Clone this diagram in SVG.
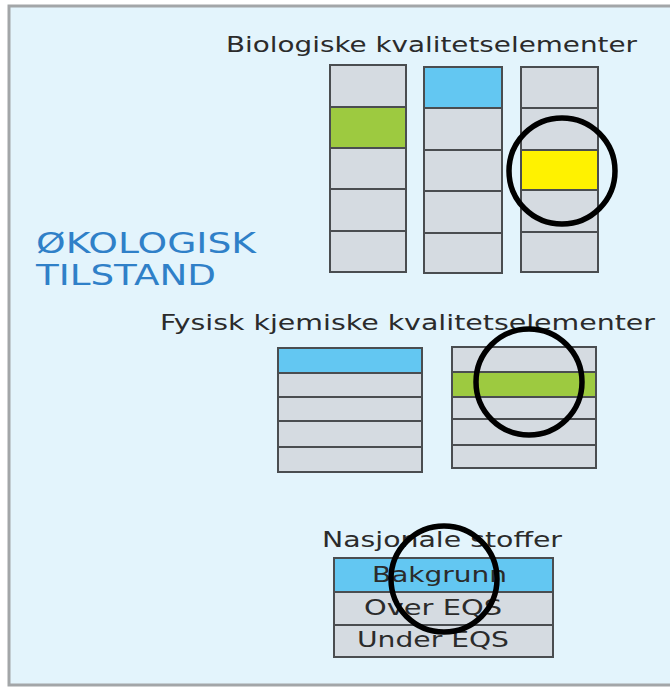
<svg xmlns="http://www.w3.org/2000/svg" width="670" height="688" viewBox="0 0 670 688">
  <style>
    .panel { fill: #e3f4fc; stroke: #a3a6a8; stroke-width: 3; }
    .cell { fill: #d5dbe1; stroke: #4a4d50; stroke-width: 2; }
    .blue { fill: #63c7f2; }
    .green { fill: #9dca40; }
    .yellow { fill: #fff200; }
    .head { font-family: "DejaVu Sans", Verdana, sans-serif; font-size: 21px; fill: #2b2b2b; }
    .cap { font-family: "DejaVu Sans", Verdana, sans-serif; font-size: 28px; fill: #2f80c8; }
    .lbl { font-family: "DejaVu Sans", Verdana, sans-serif; font-size: 21px; fill: #2b2b2b; }
    .ring { fill: none; stroke: #000; stroke-width: 5.5; }
  </style>

  <rect width="670" height="688" fill="#ffffff"/>
  <rect class="panel" x="9" y="6" width="670" height="679"/>

  <g id="title-okologisk">
    <text class="cap" x="36" y="253" textLength="220" lengthAdjust="spacingAndGlyphs">ØKOLOGISK</text>
    <text class="cap" x="36" y="285" textLength="180" lengthAdjust="spacingAndGlyphs">TILSTAND</text>
  </g>

  <g id="biologiske">
    <text class="head" x="226" y="52" textLength="411" lengthAdjust="spacingAndGlyphs">Biologiske kvalitetselementer</text>
    <g id="bio-col1">
      <rect class="cell" x="330" y="65" width="76" height="42"/>
      <rect class="cell green" x="330" y="107" width="76" height="41"/>
      <rect class="cell" x="330" y="148" width="76" height="41"/>
      <rect class="cell" x="330" y="189" width="76" height="42"/>
      <rect class="cell" x="330" y="231" width="76" height="41"/>
    </g>
    <g id="bio-col2">
      <rect class="cell blue" x="424" y="67" width="78" height="41"/>
      <rect class="cell" x="424" y="108" width="78" height="42"/>
      <rect class="cell" x="424" y="150" width="78" height="41"/>
      <rect class="cell" x="424" y="191" width="78" height="42"/>
      <rect class="cell" x="424" y="233" width="78" height="40"/>
    </g>
    <g id="bio-col3">
      <rect class="cell" x="521" y="67" width="77" height="41"/>
      <rect class="cell" x="521" y="108" width="77" height="42"/>
      <rect class="cell yellow" x="521" y="150" width="77" height="40"/>
      <rect class="cell" x="521" y="190" width="77" height="42"/>
      <rect class="cell" x="521" y="232" width="77" height="40"/>
    </g>
  </g>

  <g id="fysisk-kjemiske">
    <text class="head" x="160" y="330" textLength="495" lengthAdjust="spacingAndGlyphs">Fysisk kjemiske kvalitetselementer</text>
    <g id="fk-table1">
      <rect class="cell blue" x="278" y="348" width="144" height="25"/>
      <rect class="cell" x="278" y="373" width="144" height="24"/>
      <rect class="cell" x="278" y="397" width="144" height="24"/>
      <rect class="cell" x="278" y="421" width="144" height="26"/>
      <rect class="cell" x="278" y="447" width="144" height="25"/>
    </g>
    <g id="fk-table2">
      <rect class="cell" x="452" y="347" width="144" height="25"/>
      <rect class="cell green" x="452" y="372" width="144" height="25"/>
      <rect class="cell" x="452" y="397" width="144" height="22"/>
      <rect class="cell" x="452" y="419" width="144" height="26"/>
      <rect class="cell" x="452" y="445" width="144" height="23"/>
    </g>
  </g>

  <g id="nasjonale">
    <text class="head" x="322" y="547" textLength="240" lengthAdjust="spacingAndGlyphs">Nasjonale stoffer</text>
    <rect class="cell blue" x="334" y="558" width="219" height="34"/>
    <rect class="cell" x="334" y="592" width="219" height="33"/>
    <rect class="cell" x="334" y="625" width="219" height="32"/>
    <text class="lbl" x="372" y="582" textLength="135" lengthAdjust="spacingAndGlyphs">Bakgrunn</text>
    <text class="lbl" x="364" y="615" textLength="138" lengthAdjust="spacingAndGlyphs">Over EQS</text>
    <text class="lbl" x="357" y="647" textLength="152" lengthAdjust="spacingAndGlyphs">Under EQS</text>
  </g>

  <g id="markers">
    <circle class="ring" cx="562" cy="171" r="53"/>
    <circle class="ring" cx="529" cy="382" r="53"/>
    <circle class="ring" cx="444" cy="579" r="53"/>
  </g>
</svg>
